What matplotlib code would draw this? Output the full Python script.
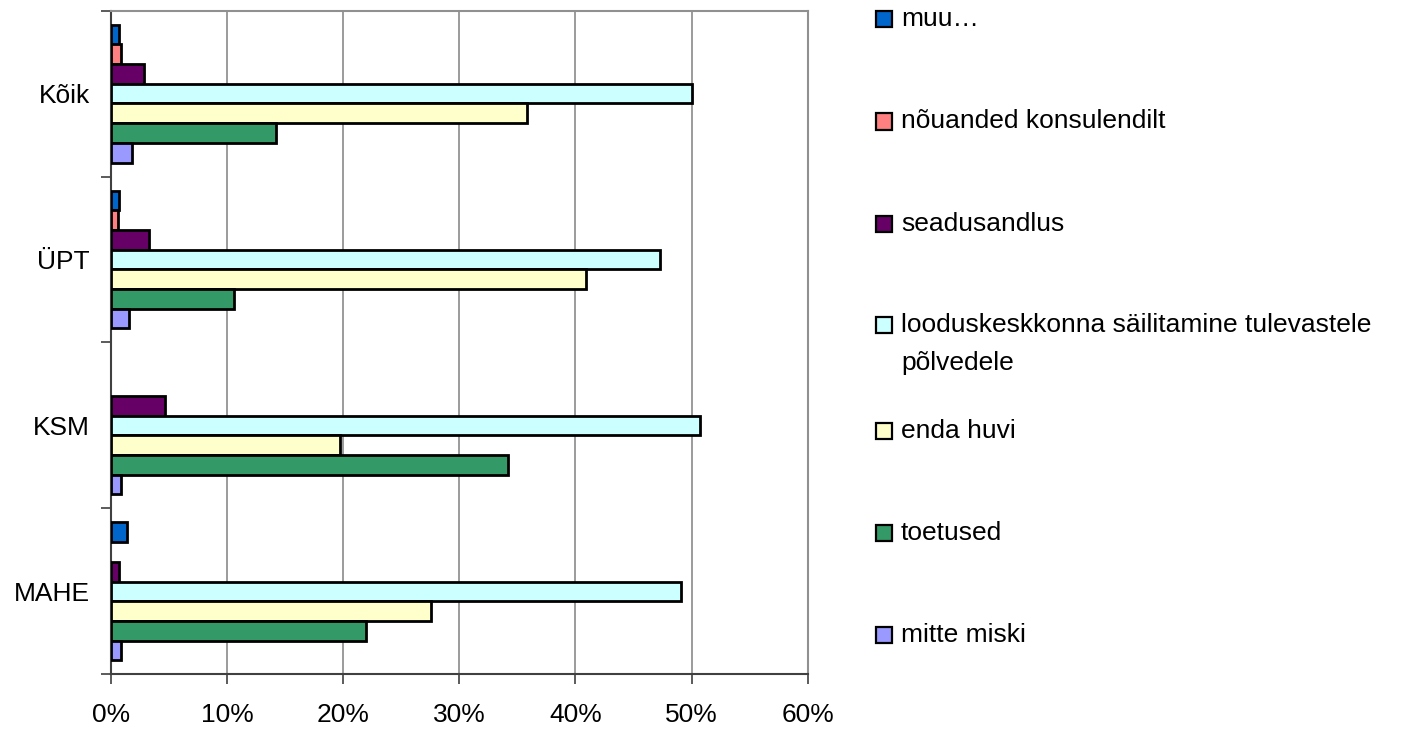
import numpy as np
import matplotlib.pyplot as plt
from matplotlib.patches import Rectangle

plt.rcParams['font.family'] = ['Liberation Sans', 'DejaVu Sans']
FS = 19

# =========================
# Andmed (osakaal, %)
# =========================
kategooriad = ["Kõik", "ÜPT", "KSM", "MAHE"]   # ülevalt alla

seeriad = [
    "muu…",
    "nõuanded konsulendilt",
    "seadusandlus",
    "looduskeskkonna säilitamine tulevastele\npõlvedele",
    "enda huvi",
    "toetused",
    "mitte miski",
]

muu = [0.7, 0.7, 0.0, 1.4]
nouanded = [0.9, 0.6, 0.0, 0.0]
seadusandlus = [2.9, 3.3, 4.7, 0.7]
looduskeskkond = [50.0, 47.3, 50.7, 49.1]
enda_huvi = [35.8, 40.9, 19.7, 27.6]
toetused = [14.2, 10.6, 34.2, 22.0]
mitte_miski = [1.8, 1.6, 0.9, 0.9]

vaartused = [muu, nouanded, seadusandlus, looduskeskkond,
             enda_huvi, toetused, mitte_miski]

varvid = ["#0066CC", "#FF8080", "#660066", "#CCFFFF",
          "#FFFFCC", "#339966", "#9999FF"]

# =========================
# Joonis
# =========================
fig = plt.figure(figsize=(14.14, 7.33), dpi=100)
ax = fig.add_axes([0.0783, 0.0801, 0.4929, 0.9053])

h = 0.1186
n_kat = len(kategooriad)
y_kesk = np.arange(n_kat)[::-1]   # Kõik ülal

for j, (vals, col) in enumerate(zip(vaartused, varvid)):
    vals = np.array(vals)
    y = y_kesk + (3 - j) * h
    m = vals > 0          # nullväärtusi ei joonistata
    ax.barh(y[m], vals[m], height=h, color=col, edgecolor="black",
            linewidth=2.0, zorder=3)

ax.set_xlim(0, 60)
ax.set_ylim(-0.5, n_kat - 0.5)

ax.set_xticks(np.arange(0, 61, 10))
ax.set_xticklabels([f"{v}%" for v in range(0, 61, 10)], fontsize=FS)
ax.tick_params(axis="x", direction="out", length=7, width=1.2,
               color="#404040", pad=14)

# kategooriate piirid = suured jaotised, nimed keskel
ax.set_yticks(np.arange(-0.5, n_kat, 1.0))
ax.set_yticklabels([])
ax.set_yticks(y_kesk, minor=True)
ax.set_yticklabels(kategooriad, minor=True, fontsize=FS)
ax.tick_params(axis="y", which="major", direction="out", length=7,
               width=1.2, color="#404040")
ax.tick_params(axis="y", which="minor", length=0, pad=15)

ax.grid(axis="x", color="#808080", linewidth=1.1, zorder=0)
ax.set_axisbelow(True)

for s in ["top", "right"]:
    ax.spines[s].set_color("#909090")
    ax.spines[s].set_linewidth(1.5)
for s in ["left", "bottom"]:
    ax.spines[s].set_color("#404040")
    ax.spines[s].set_linewidth(1.5)

# =========================
# Legend (Exceli stiilis, paremal)
# =========================
W, H = 1414.0, 733.0
legend_y = [19, 121.5, 224, 325, 430.5, 533, 635]
for nimi, col, yp in zip(seeriad, varvid, legend_y):
    fig.patches.append(Rectangle((876 / W, 1 - (yp + 8) / H), 16 / W, 16 / H,
                                 transform=fig.transFigure, facecolor=col,
                                 edgecolor="black", linewidth=1.6))
    read = nimi.split("\n")
    for k, rida in enumerate(read):
        fig.text(901 / W, 1 - (yp + 38 * k) / H, rida, fontsize=FS,
                 va="center", ha="left")

fig.savefig("out.png", dpi=100)
